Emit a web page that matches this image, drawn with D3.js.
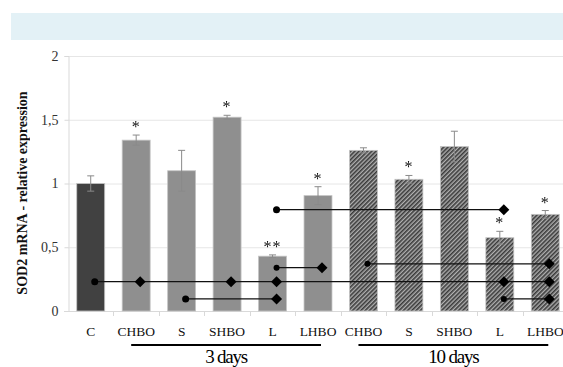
<!DOCTYPE html>
<meta charset="utf-8">
<style>
body { margin: 0; background: #fff; }
text { font-family: "Liberation Serif", "Times New Roman", serif; }
svg g, svg text { opacity: 0.999; }
.grid line { stroke: #e6e6e6; }
.axis path, .axis line { stroke: #d9d9d9; }
.axis text { fill: #333; font-size: 14px; }
</style>
<body>
<svg width="563" height="367"></svg>
<script src="https://d3js.org/d3.v7.min.js"></script>
<script>
// categories (two time groups after the control)
var keys = ["C", "CHBO3", "S3", "SHBO3", "L3", "LHBO3", "CHBO10", "S10", "SHBO10", "L10", "LHBO10"];
var labels = ["C", "CHBO", "S", "SHBO", "L", "LHBO", "CHBO", "S", "SHBO", "L", "LHBO"];
var values = [1.0, 1.34, 1.10, 1.52, 0.43, 0.905, 1.26, 1.033, 1.29, 0.575, 0.758];
var errors = [0.06, 0.04, 0.16, 0.015, 0.01, 0.07, 0.02, 0.03, 0.12, 0.05, 0.03];
var stars = ["", "*", "", "*", "**", "*", "", "*", "", "*", "*"];
var groupKind = ["ctrl", "d3", "d3", "d3", "d3", "d3", "d10", "d10", "d10", "d10", "d10"];
var yTicks = [0, 0.5, 1, 1.5, 2];

// comparison lines: circle at "from", line to "to", at level v
var compLines = [
  {from: 0, to: 10, v: 0.23, r: 3.5},
  {from: 2, to: 4, v: 0.095, r: 3.5},
  {from: 4, to: 9, v: 0.795, r: 3.5},
  {from: 4, to: 5, v: 0.34, r: 3},
  {from: 6, to: 10, v: 0.37, r: 3},
  {from: 9, to: 10, v: 0.095, r: 3}
];
// diamonds: [category index, level]
var diamonds = [[1, 0.23], [3, 0.23], [4, 0.23], [9, 0.23], [10, 0.23],
                [4, 0.095], [9, 0.795], [5, 0.34], [10, 0.37], [10, 0.095]];

var groups = [
  {name: "3 days", from: 1, to: 5},
  {name: "10 days", from: 6, to: 10}
];

var svg = d3.select("svg");
var plotLeft = 68, plotRight = 568, plotTop = 56, plotBottom = 311;

// light blue banner on top
svg.append("rect").attr("x", 11).attr("y", 13).attr("width", 560).attr("height", 27)
  .attr("fill", "#e3f1f6");

var x = d3.scaleBand().domain(keys).range([plotLeft, plotRight])
  .paddingInner(0.385).paddingOuter(0.1925);
var y = d3.scaleLinear().domain([0, 2]).range([plotBottom, plotTop]);

var defs = svg.append("defs");
var pat = defs.append("pattern").attr("id", "hatch")
  .attr("patternUnits", "userSpaceOnUse").attr("width", 3).attr("height", 3)
  .attr("patternTransform", "rotate(45)");
pat.append("rect").attr("width", 3).attr("height", 3).attr("fill", "#b0b0b0");
pat.append("rect").attr("width", 1.6).attr("height", 3).attr("fill", "#3a3a3a");

// grid
svg.append("g").attr("class", "grid")
  .selectAll("line").data(yTicks).enter().append("line")
  .attr("x1", plotLeft).attr("x2", 563)
  .attr("y1", function(d) { return y(d) + 0.5; })
  .attr("y2", function(d) { return y(d) + 0.5; });

// y axis
svg.append("g").attr("class", "axis")
  .attr("transform", "translate(" + (plotLeft + 0.5) + ",0)")
  .call(d3.axisLeft(y).tickValues(yTicks).tickSize(4).tickPadding(6)
    .tickFormat(function(d) { return String(d).replace(".", ","); }));

// x axis baseline with ticks at category boundaries
var xa = svg.append("g").attr("class", "axis");
xa.append("line").attr("x1", plotLeft - 4).attr("x2", 563)
  .attr("y1", plotBottom + 0.5).attr("y2", plotBottom + 0.5);
xa.selectAll(".bt").data(keys.slice(1)).enter().append("line")
  .attr("x1", function(d) { return Math.round(x(d) - x.step() * x.paddingInner() / 2) + 0.5; })
  .attr("x2", function(d) { return Math.round(x(d) - x.step() * x.paddingInner() / 2) + 0.5; })
  .attr("y1", plotBottom).attr("y2", plotBottom + 5);

var fills = {ctrl: "#414141", d3: "#8f8f8f", d10: "url(#hatch)"};

// bars
svg.append("g").selectAll("rect").data(keys).enter().append("rect")
  .attr("x", function(d) { return x(d); })
  .attr("width", x.bandwidth())
  .attr("y", function(d, i) { return y(values[i]); })
  .attr("height", function(d, i) { return y(0) - y(values[i]); })
  .attr("fill", function(d, i) { return fills[groupKind[i]]; })
  .attr("stroke", "#c4c4c4").attr("stroke-width", 0.8);

// error bars
var eb = svg.append("g").attr("stroke", "#8a8a8a").attr("stroke-width", 1);
keys.forEach(function(k, i) {
  var cx = x(k) + x.bandwidth() / 2;
  eb.append("line").attr("x1", cx).attr("x2", cx)
    .attr("y1", y(values[i] - errors[i])).attr("y2", y(values[i] + errors[i]));
  [values[i] - errors[i], values[i] + errors[i]].forEach(function(v) {
    eb.append("line").attr("x1", cx - 3.5).attr("x2", cx + 3.5)
      .attr("y1", y(v)).attr("y2", y(v));
  });
});

// significance stars
svg.append("g").selectAll("text").data(keys).enter().append("text")
  .attr("x", function(d) { return x(d) + x.bandwidth() / 2; })
  .attr("y", function(d, i) { return y(values[i] + errors[i]) - 3; })
  .attr("text-anchor", "middle").attr("font-size", 16).attr("fill", "#111")
  .attr("letter-spacing", 1)
  .text(function(d, i) { return stars[i]; });

// comparison markers
var off = 4;
function mx(i) { return x(keys[i]) + x.bandwidth() / 2 + off; }
var cg = svg.append("g");
cg.selectAll("line").data(compLines).enter().append("line")
  .attr("x1", function(d) { return mx(d.from); })
  .attr("x2", function(d) { return mx(d.to); })
  .attr("y1", function(d) { return y(d.v); })
  .attr("y2", function(d) { return y(d.v); })
  .attr("stroke", "#111").attr("stroke-width", 1.3);
cg.selectAll("circle").data(compLines).enter().append("circle")
  .attr("cx", function(d) { return mx(d.from); })
  .attr("cy", function(d) { return y(d.v); })
  .attr("r", function(d) { return d.r; })
  .attr("fill", "#000");
cg.selectAll("path").data(diamonds).enter().append("path")
  .attr("d", "M0,-5.5L5.5,0L0,5.5L-5.5,0Z")
  .attr("transform", function(d) { return "translate(" + mx(d[0]) + "," + y(d[1]) + ")"; })
  .attr("fill", "#000");

// category labels
svg.append("g").selectAll("text").data(keys).enter().append("text")
  .attr("x", function(d) { return x(d) + x.bandwidth() / 2; })
  .attr("y", 336)
  .attr("text-anchor", "middle").attr("font-size", 13.5).attr("fill", "#111")
  .text(function(d, i) { return labels[i]; });

// time group brackets
var gg = svg.append("g");
groups.forEach(function(g) {
  var x1 = x(keys[g.from]) + x.bandwidth() / 2 - 5;
  var x2 = x(keys[g.to]) + x.bandwidth() / 2 + 3;
  gg.append("line").attr("x1", x1).attr("x2", x2).attr("y1", 345).attr("y2", 345)
    .attr("stroke", "#000").attr("stroke-width", 2);
  gg.append("text").attr("x", (x1 + x2) / 2).attr("y", 363)
    .attr("text-anchor", "middle").attr("font-size", 19).attr("letter-spacing", -1.2)
    .attr("fill", "#000").text(g.name);
});

// y title
svg.append("text")
  .attr("transform", "translate(27,193) rotate(-90)")
  .attr("text-anchor", "middle").attr("font-size", 14).attr("font-weight", "bold")
  .attr("fill", "#111")
  .text("SOD2 mRNA - relative expression");
</script>
</body>
